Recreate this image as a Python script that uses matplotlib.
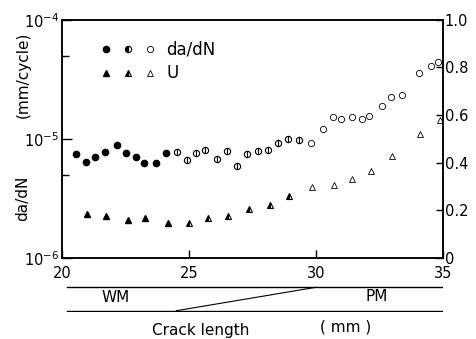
import matplotlib
matplotlib.use("Agg")
import matplotlib.pyplot as plt
from matplotlib.legend_handler import HandlerTuple
from matplotlib.lines import Line2D
from matplotlib.ticker import FixedLocator, NullFormatter

plt.rcParams['font.family'] = ['DejaVu Sans']
plt.rcParams['mathtext.fontset'] = 'dejavusans'

# da/dN (mm/cycle) vs crack length (mm), split by marker fill
len_dadn_full = [20.54, 20.93, 21.31, 21.69, 22.15, 22.51, 22.90, 23.23, 23.71, 24.10]
dadn_full = [7.4e-6, 6.4e-6, 7.0e-6, 7.7e-6, 8.8e-6, 7.6e-6, 7.0e-6, 6.3e-6, 6.3e-6, 7.6e-6]
len_dadn_half = [24.52, 24.90, 25.27, 25.61, 26.09, 26.51, 26.87, 27.28, 27.73, 28.12,
                 28.52, 28.91, 29.33]
dadn_half = [7.8e-6, 6.6e-6, 7.6e-6, 8.0e-6, 6.8e-6, 7.9e-6, 5.9e-6, 7.5e-6, 7.9e-6, 8.0e-6,
             9.2e-6, 1.0e-5, 9.8e-6]
len_dadn_open = [29.79, 30.27, 30.67, 30.97, 31.40, 31.82, 32.10, 32.60, 32.95, 33.38,
                 34.04, 34.54, 34.80]
dadn_open = [9.2e-6, 1.21e-5, 1.53e-5, 1.47e-5, 1.52e-5, 1.46e-5, 1.55e-5, 1.88e-5, 2.25e-5,
             2.33e-5, 3.6e-5, 4.1e-5, 4.4e-5]

# U vs crack length
len_u_full = [20.99, 21.75, 22.60, 23.28, 24.18]
u_full = [0.184, 0.175, 0.158, 0.168, 0.148]
len_u_half = [24.98, 25.74, 26.55, 27.35, 28.19, 28.94]
u_half = [0.148, 0.169, 0.177, 0.207, 0.223, 0.259]
len_u_open = [29.83, 30.69, 31.40, 32.15, 32.99, 34.07, 34.86]
u_open = [0.296, 0.308, 0.330, 0.367, 0.426, 0.519, 0.579]

x_ticks = [20, 25, 30, 35]
u_ticks = [0, 0.2, 0.4, 0.6, 0.8, 1.0]
u_tick_labels = ['0', '0.2', '0.4', '0.6', '0.8', '1.0']

fig = plt.figure(figsize=(4.77, 3.39), dpi=100)
ax = fig.add_axes([0.130, 0.239, 0.799, 0.703])
ax2 = ax.twinx()

ms = 4.5
ax.plot(len_dadn_full, dadn_full, 'o', color='black', ms=ms, ls='none')
ax.plot(len_dadn_half, dadn_half, 'o', color='black', mfc='white', ms=ms, ls='none',
        fillstyle='left', markerfacecoloralt='white', mew=0.8)
ax.plot(len_dadn_open, dadn_open, 'o', color='black', mfc='white', ms=ms, ls='none', mew=0.6)

ax2.plot(len_u_full, u_full, '^', color='black', ms=ms, ls='none')
ax2.plot(len_u_half, u_half, '^', color='black', ms=ms, ls='none',
         fillstyle='left', markerfacecoloralt='white', mew=0.8)
ax2.plot(len_u_open, u_open, '^', color='black', mfc='white', ms=ms, ls='none', mew=0.6)

ax.set_yscale('log')
ax.set_ylim(1e-6, 1e-4)
ax.set_xlim(20, 35)
ax2.set_ylim(0, 1.0)

ax.yaxis.set_major_locator(FixedLocator([1e-6, 1e-5, 1e-4]))
ax.set_yticklabels(['$10^{-6}$', '$10^{-5}$', '$10^{-4}$'])
ax.yaxis.set_minor_locator(FixedLocator([5e-6, 5e-5]))
ax.yaxis.set_minor_formatter(NullFormatter())
ax.set_xticks(x_ticks)
ax2.set_yticks(u_ticks)
ax2.set_yticklabels(u_tick_labels)

ax.tick_params(axis='y', which='major', direction='in', length=7, width=1.0,
               labelsize=10.5, pad=2)
ax.tick_params(axis='x', which='major', direction='in', length=6, width=1.0,
               labelsize=10.5, pad=6)
ax.tick_params(axis='y', which='minor', direction='in', length=5, width=1.0)
ax2.tick_params(axis='y', direction='in', length=5, width=1.0, labelsize=10.5, pad=1)
for a in (ax, ax2):
    for s in a.spines.values():
        s.set_linewidth(1.1)

# legend with three fill styles per series
c = [Line2D([], [], marker='o', color='black', ls='none', ms=ms),
     Line2D([], [], marker='o', color='black', ls='none', ms=ms, fillstyle='left',
            markerfacecoloralt='white', mew=0.8),
     Line2D([], [], marker='o', color='black', mfc='white', ls='none', ms=ms, mew=0.6)]
t = [Line2D([], [], marker='^', color='black', ls='none', ms=ms),
     Line2D([], [], marker='^', color='black', ls='none', ms=ms, fillstyle='left',
            markerfacecoloralt='white', mew=0.8),
     Line2D([], [], marker='^', color='black', mfc='white', ls='none', ms=ms, mew=0.6)]
ax2.legend([tuple(c), tuple(t)], ['da/dN', 'U'],
           handler_map={tuple: HandlerTuple(ndivide=None, pad=0.6)},
           handlelength=3.4, handletextpad=0.6, frameon=False, fontsize=12,
           loc='upper left', bbox_to_anchor=(0.06, 0.975), labelspacing=0.35)

fig.text(0.048, 0.78, '(mm/cycle)', rotation=90, ha='center', va='center', fontsize=11)
fig.text(0.048, 0.415, 'da/dN', rotation=90, ha='center', va='center', fontsize=11)

# weld-metal / parent-metal schematic below
axs = fig.add_axes([0.130, 0.080, 0.799, 0.076], sharex=ax)
axs.plot([20.2, 35], [1, 1], color='black', lw=1.0)
axs.plot([20.2, 35], [0, 0], color='black', lw=1.0)
axs.plot([24.5, 30.0], [0, 1], color='black', lw=0.8)
axs.set_ylim(-0.05, 1.05)
axs.axis('off')
axs.text(22.1, 0.55, 'WM', ha='center', va='center', fontsize=11)
axs.text(32.4, 0.62, 'PM', ha='center', va='center', fontsize=11)

fig.text(0.42, 0.025, 'Crack length', ha='center', va='center', fontsize=11)
fig.text(0.725, 0.035, '( mm )', ha='center', va='center', fontsize=11)

fig.savefig('out.png', dpi=100)
